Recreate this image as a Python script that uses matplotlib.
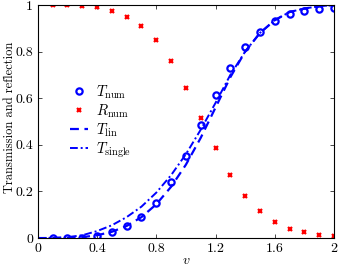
import numpy as np
from matplotlib import pyplot as plt

plt.rcParams.update({'font.family': 'serif', 'font.serif': ['cmr10'],
                     'mathtext.fontset': 'cm', 'axes.formatter.use_mathtext': True,
                     'xtick.direction': 'in', 'ytick.direction': 'in',
                     'xtick.top': True, 'ytick.right': True})

# numerical data
v_num = [0.1, 0.2, 0.3, 0.4, 0.5, 0.6, 0.7, 0.8, 0.9, 1.0,
         1.1, 1.2, 1.3, 1.4, 1.5, 1.6, 1.7, 1.8, 1.9, 2.0]
T_num = [0.0, 0.0, 0.002, 0.01, 0.025, 0.05, 0.09, 0.15, 0.24, 0.352,
         0.485, 0.615, 0.73, 0.82, 0.885, 0.93, 0.96, 0.976, 0.985, 0.988]
R_num = [1.0, 1.0, 0.998, 0.99, 0.975, 0.95, 0.91, 0.85, 0.76, 0.645,
         0.515, 0.385, 0.27, 0.18, 0.115, 0.07, 0.04, 0.024, 0.015, 0.01]

# analytic curves
v_line = [0.0, 0.1, 0.2, 0.3, 0.4, 0.5, 0.6, 0.7, 0.8, 0.9, 1.0,
          1.1, 1.2, 1.3, 1.4, 1.5, 1.6, 1.7, 1.8, 1.9, 2.0]
T_lin = [0.0, 0.0, 0.001, 0.004, 0.012, 0.027, 0.052, 0.09, 0.145, 0.22, 0.315,
         0.43, 0.56, 0.69, 0.8, 0.88, 0.935, 0.97, 0.985, 0.995, 1.0]
T_single = [0.0, 0.001, 0.004, 0.012, 0.03, 0.055, 0.09, 0.135, 0.195, 0.27, 0.36,
            0.465, 0.58, 0.7, 0.8, 0.88, 0.935, 0.97, 0.985, 0.995, 1.0]

fig = plt.figure(figsize=(3.38, 2.66), dpi=100)
ax = fig.add_axes([0.112, 0.105, 0.876, 0.876])

ax.plot(v_num, T_num, 'o', color='blue', mfc='none', mew=1.6, ms=4.5, label=r'$T_{\rm num}$')
ax.plot(v_num, R_num, 'x', color='red', mew=1.6, ms=3.5, label=r'$R_{\rm num}$')
ax.plot(v_line, T_lin, color='blue', lw=1.6, dashes=(4, 2.5), label=r'$T_{\rm lin}$')
ax.plot(v_line, T_single, color='blue', lw=1.4, dashes=(4, 1.5, 1, 1.5), label=r'$T_{\rm single}$')

ax.set_xlim(0, 2)
ax.set_ylim(0, 1)
ax.set_xticks([0, 0.4, 0.8, 1.2, 1.6, 2])
ax.set_xticklabels(['0', '0.4', '0.8', '1.2', '1.6', '2'])
ax.set_yticks([0, 0.2, 0.4, 0.6, 0.8, 1])
ax.set_yticklabels(['0', '0.2', '0.4', '0.6', '0.8', '1'])
ax.tick_params(labelsize=10, length=3, width=0.5)
ax.set_xlabel(r'$v$', fontsize=10, labelpad=0)
ax.set_ylabel('Transmission and reflection', fontsize=9)
ax.yaxis.set_label_coords(-0.075, 0.52)

ax.legend(loc='center left', bbox_to_anchor=(0.11, 0.5), frameon=False, fontsize=10.5,
          handlelength=1.2, handletextpad=0.55, labelspacing=0.1, borderpad=0,
          borderaxespad=0)

plt.savefig('out.png', dpi=100)
